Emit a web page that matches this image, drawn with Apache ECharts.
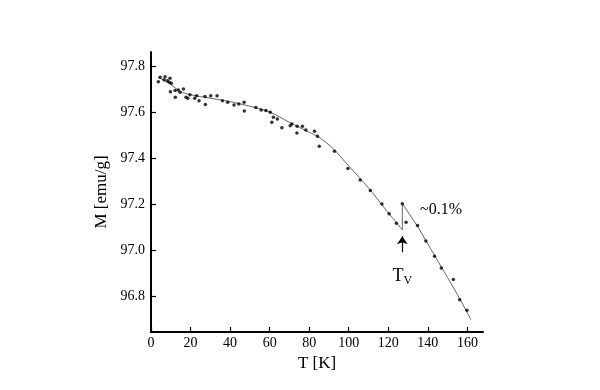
<!DOCTYPE html>
<html>
<head>
<meta charset="utf-8">
<script src="https://cdn.jsdelivr.net/npm/echarts@6/dist/echarts.min.js"></script>
<style>html,body{margin:0;padding:0;background:#fff}#c{width:600px;height:390px}</style>
</head>
<body>
<div id="c"></div>
<script>
// measured points: [T (K), M (emu/g)]
var measuredPoints = [
  [3.7,97.732],[4.6,97.751],[6.6,97.740],[7.1,97.753],[8.3,97.736],[9.6,97.747],[10.3,97.725],[9.3,97.729],
  [9.8,97.688],[12.2,97.693],[12.3,97.664],[13.8,97.696],[14.7,97.686],[16.4,97.700],[17.7,97.664],[18.6,97.660],
  [19.7,97.675],[22.1,97.660],[23.1,97.671],[24.3,97.649],[27.3,97.667],[27.5,97.633],[30.2,97.671],[33.4,97.671],
  [36.1,97.649],[38.8,97.642],[42.0,97.630],[44.4,97.635],[47.1,97.642],[47.2,97.604],[53.0,97.620],[55.7,97.609],
  [58.1,97.606],[60.3,97.599],[61.1,97.555],[61.9,97.577],[63.9,97.570],[66.2,97.532],[70.4,97.540],[71.2,97.548],
  [73.9,97.538],[73.8,97.509],[76.6,97.538],[78.3,97.522],[82.7,97.516],[84.2,97.494],[85.1,97.451],[92.8,97.429],
  [99.6,97.354],[105.8,97.304],[110.9,97.258],[116.8,97.200],[120.4,97.157],[124.1,97.116],[127.1,97.201],[129.0,97.120],
  [134.8,97.106],[139.0,97.039],[143.4,96.973],[146.8,96.921],[152.9,96.871],[156.1,96.783],[159.8,96.738]
];
// fitted curve below the Verwey transition
var fitBelow = [
  [3.7,97.751],[9.6,97.722],[14.7,97.690],[20,97.675],[30,97.660],[40,97.645],[50,97.625],[60,97.600],
  [70,97.555],[80,97.512],[85,97.490],[92,97.442],[100,97.365],[110,97.270],[118,97.183],[127.1,97.087]
];
// jump at T_V and fitted curve above it
var fitAbove = [
  [127.1,97.087],[127.1,97.202],[135,97.100],[143,96.982],[150,96.880],[156,96.790],[161.8,96.697]
];
var tvT = 127.1;
var arrowM = [96.99, 97.06];
var tvLabelM = 96.885;
var jumpLabel = {text: '~0.1%', T: 146.7, M: 97.174};
var xTicks = [0,20,40,60,80,100,120,140,160];
var yTicks = [96.8,97.0,97.2,97.4,97.6,97.8];

var font = 'Liberation Serif';
var chart = echarts.init(document.getElementById('c'), null, {renderer:'canvas'});
chart.setOption({
  animation: false,
  backgroundColor: '#fff',
  grid: {left:151, right:117, top:52, bottom:58},
  xAxis: {
    type:'value', min:0, max:167.9,
    name:'T [K]', nameLocation:'middle', nameGap:19,
    nameTextStyle:{fontFamily:font, fontSize:17, color:'#000'},
    axisLine:{onZero:false, lineStyle:{color:'#000', width:2}},
    axisTick:{inside:true, length:5, lineStyle:{color:'#000', width:1.2}, customValues:xTicks},
    axisLabel:{fontFamily:font, fontSize:14, color:'#000', margin:4, customValues:xTicks},
    splitLine:{show:false}
  },
  yAxis: {
    type:'value', min:96.643, max:97.861,
    name:'M [emu/g]', nameLocation:'middle', nameGap:35,
    nameTextStyle:{fontFamily:font, fontSize:17, color:'#000'},
    axisLine:{onZero:false, lineStyle:{color:'#000', width:2}},
    axisTick:{inside:true, length:5, lineStyle:{color:'#000', width:1.2}, customValues:yTicks},
    axisLabel:{fontFamily:font, fontSize:14, color:'#000', margin:6, customValues:yTicks,
      formatter:function(v){return v.toFixed(1);}},
    splitLine:{show:false}
  },
  series: [
    {type:'line', data:fitBelow, smooth:0.3, showSymbol:false, symbol:'none',
     lineStyle:{color:'#666', width:1}, z:2},
    {type:'line', data:fitAbove, smooth:false, showSymbol:false, symbol:'none',
     lineStyle:{color:'#666', width:1}, z:2,
     markLine:{silent:true, symbol:['none','arrow'], symbolSize:8,
       lineStyle:{color:'#000', width:1.2, type:'solid'}, label:{show:false},
       emphasis:{disabled:true},
       data:[[{coord:[tvT, arrowM[0]]},{coord:[tvT, arrowM[1]]}]]},
     markPoint:{silent:true, symbol:'circle', symbolSize:0,
       data:[
         {coord:[tvT, tvLabelM], label:{show:true, position:'inside', formatter:'{a|T}{b|V}',
           rich:{a:{fontFamily:font, fontSize:18, color:'#000'}, b:{fontFamily:font, fontSize:12, color:'#000', padding:[8,0,0,0]}}}},
         {coord:[jumpLabel.T, jumpLabel.M], label:{show:true, position:'inside', formatter:jumpLabel.text,
           fontFamily:font, fontSize:16, color:'#000'}}
       ]}
    },
    {type:'scatter', data:measuredPoints, symbol:'circle', symbolSize:3.5,
     itemStyle:{color:'#000'}, z:3}
  ]
});
</script>
</body>
</html>
